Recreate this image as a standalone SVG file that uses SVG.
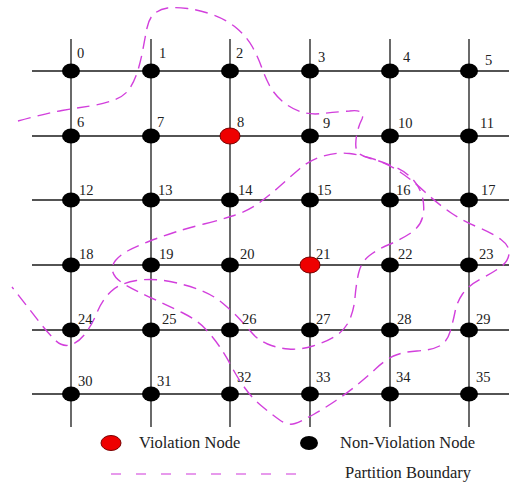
<svg xmlns="http://www.w3.org/2000/svg" width="519" height="482" viewBox="0 0 519 482">
<style>
.grid line{stroke:#1a1a1a;stroke-width:1.3}
.n{fill:#000}
.v{fill:#ee0000;stroke:#7a0000;stroke-width:1}
.lbl{font-family:"Liberation Serif","Times New Roman",serif;font-size:14.5px;fill:#222}
.leg{font-family:"Liberation Serif","Times New Roman",serif;font-size:16.5px;fill:#222}
.pb{fill:none;stroke:#d23fdc;stroke-width:1.4;stroke-dasharray:13 7}
</style>
<rect width="519" height="482" fill="#fff"/>
<g id="connectors" class="grid">
<line x1="32" y1="71" x2="509" y2="71"/>
<line x1="32" y1="136" x2="509" y2="136"/>
<line x1="32" y1="200" x2="509" y2="200"/>
<line x1="32" y1="265" x2="509" y2="265"/>
<line x1="32" y1="330" x2="509" y2="330"/>
<line x1="32" y1="394" x2="509" y2="394"/>
<line x1="71" y1="39" x2="71" y2="427"/>
<line x1="151" y1="39" x2="151" y2="427"/>
<line x1="230" y1="39" x2="230" y2="427"/>
<line x1="310" y1="39" x2="310" y2="427"/>
<line x1="390" y1="39" x2="390" y2="427"/>
<line x1="469" y1="39" x2="469" y2="427"/>
</g>
<g id="boundaries">
<path class="pb" d="M18 121 Q47 113 62 110.5 Q77 108 90 106 Q103 104 114 100 Q125 96 130 88 Q135 80 138 70 Q141 60 143 49 Q145 38 147 28 Q149 18 154.5 13.5 Q160 9 167.5 8 Q175 7 187.5 8.5 Q200 10 213.5 15 Q227 20 237 28.5 Q247 37 252.5 47 Q258 57 261.5 67 Q265 77 269.5 85.5 Q274 94 282 101 Q290 108 300 111.5 Q310 115 322.5 113.5 Q335 112 349.5 111 Q366 109 362 119 Q358 127 356.5 136 Q355 145 356.5 150 Q358 155 369 158 Q380 161 392.5 166 Q405 171 412.5 179 Q420 187 422.5 197.5 Q425 208 422.5 217.5 Q420 227 410 233.5 Q400 240 389 244.5 Q378 249 369.5 255.5 Q361 262 358.5 273.5 Q356 285 355 297.5 Q354 310 349.5 320 Q345 330 335.5 336 Q326 342 313 346 Q300 350 288.5 349 Q277 348 267.5 344 Q258 340 252.5 333.5 Q247 327 240 319.5 Q233 312 223 303.5 Q213 295 200 290 Q187 285 170 281.5 Q153 278 136.5 280.5 Q120 283 111 291.5 Q102 300 97 312.5 Q92 325 85 334 Q78 343 70 345 Q62 347 55 340 Q48 333 39 321.5 Q30 310 12 287"/>
<path class="pb" d="M204 224 Q220 220 234 215.5 Q248 211 259 203 Q270 195 280 186 Q290 177 300 168.5 Q310 160 323.5 156 Q337 152 349.5 153.5 Q362 155 375 159.5 Q388 164 400 172 Q412 180 425 192 Q438 204 450.5 212.5 Q463 221 477.5 227 Q492 233 501 239.5 Q510 246 509 254 Q508 262 500 267.5 Q492 273 480 279.5 Q468 286 462.5 294 Q457 302 455 312 Q453 322 450 332 Q447 342 439.5 346 Q432 350 417 351 Q402 352 393.5 356 Q385 360 376 368.5 Q367 377 357 385 Q347 393 336 400.5 Q325 408 313.5 414.5 Q302 421 295 423.5 Q288 426 279 419.5 Q270 413 261 405.5 Q252 398 244.5 387.5 Q237 377 231.5 366.5 Q226 356 219.5 346.5 Q213 337 205 328.5 Q197 320 182 312.5 Q167 305 152.5 298.5 Q138 292 126.5 285.5 Q115 279 113 272.5 Q111 266 115.5 260.5 Q120 255 127.5 251 Q135 247 147.5 242 Q160 237 174 232.5 Q188 228 204 224 Z"/>
</g>
<g id="node0"><ellipse class="n" cx="71" cy="71" rx="9" ry="7.5"/><text class="lbl" x="77" y="58">0</text></g>
<g id="node1"><ellipse class="n" cx="151" cy="71" rx="9" ry="7.5"/><text class="lbl" x="159" y="58">1</text></g>
<g id="node2"><ellipse class="n" cx="230" cy="71" rx="9" ry="7.5"/><text class="lbl" x="236" y="58">2</text></g>
<g id="node3"><ellipse class="n" cx="310" cy="71" rx="9" ry="7.5"/><text class="lbl" x="318" y="62">3</text></g>
<g id="node4"><ellipse class="n" cx="390" cy="71" rx="9" ry="7.5"/><text class="lbl" x="403" y="62">4</text></g>
<g id="node5"><ellipse class="n" cx="469" cy="71" rx="9" ry="7.5"/><text class="lbl" x="485" y="65">5</text></g>
<g id="node6"><ellipse class="n" cx="71" cy="136" rx="9" ry="7.5"/><text class="lbl" x="77" y="127">6</text></g>
<g id="node7"><ellipse class="n" cx="151" cy="136" rx="9" ry="7.5"/><text class="lbl" x="157" y="127">7</text></g>
<g id="node8"><ellipse class="v" cx="230" cy="136" rx="10" ry="8"/><text class="lbl" x="237" y="127">8</text></g>
<g id="node9"><ellipse class="n" cx="310" cy="136" rx="9" ry="7.5"/><text class="lbl" x="323" y="128">9</text></g>
<g id="node10"><ellipse class="n" cx="390" cy="136" rx="9" ry="7.5"/><text class="lbl" x="398" y="128">10</text></g>
<g id="node11"><ellipse class="n" cx="469" cy="136" rx="9" ry="7.5"/><text class="lbl" x="480" y="128">11</text></g>
<g id="node12"><ellipse class="n" cx="71" cy="200" rx="9" ry="7.5"/><text class="lbl" x="79" y="195">12</text></g>
<g id="node13"><ellipse class="n" cx="151" cy="200" rx="9" ry="7.5"/><text class="lbl" x="158" y="195">13</text></g>
<g id="node14"><ellipse class="n" cx="230" cy="200" rx="9" ry="7.5"/><text class="lbl" x="238" y="195">14</text></g>
<g id="node15"><ellipse class="n" cx="310" cy="200" rx="9" ry="7.5"/><text class="lbl" x="317" y="195">15</text></g>
<g id="node16"><ellipse class="n" cx="390" cy="200" rx="9" ry="7.5"/><text class="lbl" x="396" y="195">16</text></g>
<g id="node17"><ellipse class="n" cx="469" cy="200" rx="9" ry="7.5"/><text class="lbl" x="481" y="195">17</text></g>
<g id="node18"><ellipse class="n" cx="71" cy="265" rx="9" ry="7.5"/><text class="lbl" x="79" y="259">18</text></g>
<g id="node19"><ellipse class="n" cx="151" cy="265" rx="9" ry="7.5"/><text class="lbl" x="159" y="259">19</text></g>
<g id="node20"><ellipse class="n" cx="230" cy="265" rx="9" ry="7.5"/><text class="lbl" x="240" y="259">20</text></g>
<g id="node21"><ellipse class="v" cx="310" cy="265" rx="10" ry="8"/><text class="lbl" x="316" y="259">21</text></g>
<g id="node22"><ellipse class="n" cx="390" cy="265" rx="9" ry="7.5"/><text class="lbl" x="398" y="259">22</text></g>
<g id="node23"><ellipse class="n" cx="469" cy="265" rx="9" ry="7.5"/><text class="lbl" x="479" y="259">23</text></g>
<g id="node24"><ellipse class="n" cx="71" cy="330" rx="9" ry="7.5"/><text class="lbl" x="78" y="324">24</text></g>
<g id="node25"><ellipse class="n" cx="151" cy="330" rx="9" ry="7.5"/><text class="lbl" x="162" y="324">25</text></g>
<g id="node26"><ellipse class="n" cx="230" cy="330" rx="9" ry="7.5"/><text class="lbl" x="242" y="324">26</text></g>
<g id="node27"><ellipse class="n" cx="310" cy="330" rx="9" ry="7.5"/><text class="lbl" x="316" y="324">27</text></g>
<g id="node28"><ellipse class="n" cx="390" cy="330" rx="9" ry="7.5"/><text class="lbl" x="397" y="324">28</text></g>
<g id="node29"><ellipse class="n" cx="469" cy="330" rx="9" ry="7.5"/><text class="lbl" x="476" y="324">29</text></g>
<g id="node30"><ellipse class="n" cx="71" cy="394" rx="9" ry="7.5"/><text class="lbl" x="78" y="386">30</text></g>
<g id="node31"><ellipse class="n" cx="151" cy="394" rx="9" ry="7.5"/><text class="lbl" x="157" y="386">31</text></g>
<g id="node32"><ellipse class="n" cx="230" cy="394" rx="9" ry="7.5"/><text class="lbl" x="237" y="382">32</text></g>
<g id="node33"><ellipse class="n" cx="310" cy="394" rx="9" ry="7.5"/><text class="lbl" x="316" y="382">33</text></g>
<g id="node34"><ellipse class="n" cx="390" cy="394" rx="9" ry="7.5"/><text class="lbl" x="396" y="382">34</text></g>
<g id="node35"><ellipse class="n" cx="469" cy="394" rx="9" ry="7.5"/><text class="lbl" x="476" y="382">35</text></g>
<g id="legend">
<ellipse class="v" cx="111" cy="443" rx="10" ry="7.5"/>
<text class="leg" x="139" y="448">Violation Node</text>
<ellipse class="n" cx="309" cy="443" rx="9" ry="7"/>
<text class="leg" x="340" y="448">Non-Violation Node</text>
<line x1="111" y1="474" x2="305" y2="474" stroke="#e07ae6" stroke-width="1.4" stroke-dasharray="10 15"/>
<text class="leg" x="345" y="478">Partition Boundary</text>
</g>
</svg>
